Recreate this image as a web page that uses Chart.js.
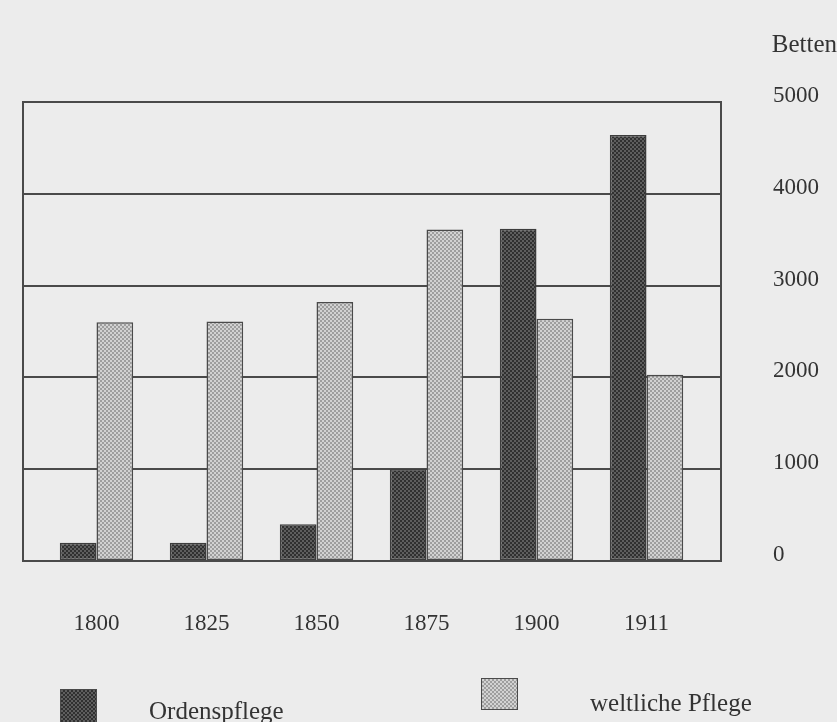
<!DOCTYPE html>
<html>
<head>
<meta charset="utf-8">
<script src="https://cdn.jsdelivr.net/npm/chart.js@4/dist/chart.umd.min.js"></script>
<style>
  body { margin: 0; background: #ececec; }
  #wrap { position: relative; width: 837px; height: 722px; overflow: hidden; }
  .lg-box { position: absolute; width: 37px; height: 32px; box-sizing: border-box; border: 1.5px solid #4a4a4a; }
  .lg-text { position: absolute; font-family: "Liberation Serif", serif; font-size: 25px; color: #333; line-height: 1; }
</style>
</head>
<body>
<div id="wrap">
  <canvas id="bettenChart" width="837" height="722"></canvas>
  <div class="lg-box" id="box-0" style="left:60px; top:689px; height:40px;"></div>
  <div class="lg-text" id="text-0" style="left:149px; top:698px;"></div>
  <div class="lg-box" id="box-1" style="left:481px; top:678px;"></div>
  <div class="lg-text" id="text-1" style="left:590px; top:690px;"></div>
</div>
<script>
var years = ['1800', '1825', '1850', '1875', '1900', '1911'];
var seriesNames = ['Ordenspflege', 'weltliche Pflege'];
var ordenspflege = [200, 200, 400, 1000, 3620, 4640];
var weltlichePflege = [2600, 2610, 2820, 3610, 2640, 2030];
var yTicks = [0, 1000, 2000, 3000, 4000, 5000];

function makePattern(base, dot) {
    var p = document.createElement('canvas');
    p.width = 4;
    p.height = 4;
    var g = p.getContext('2d');
    g.fillStyle = base;
    g.fillRect(0, 0, 4, 4);
    g.fillStyle = dot;
    g.fillRect(0, 0, 2, 2);
    g.fillRect(2, 2, 2, 2);
    return g.createPattern(p, 'repeat');
}

function toPoints(values) {
    return values.map(function(v, i) { return { x: i, y: v }; });
}

var darkFill = makePattern('#5e5e5e', '#303030');
var lightFill = makePattern('#d2d2d2', '#9e9e9e');

// legend lives in html, boxes get the same checker look
document.getElementById('text-0').textContent = seriesNames[0];
document.getElementById('text-1').textContent = seriesNames[1];
document.getElementById('box-0').style.background = 'repeating-conic-gradient(#303030 0 25%, #5e5e5e 0 50%) 0 0/4px 4px';
document.getElementById('box-1').style.background = 'repeating-conic-gradient(#9e9e9e 0 25%, #d2d2d2 0 50%) 0 0/4px 4px';

var framePlugin = {
    id: 'frame',
    beforeDatasetsDraw: function(chart) {
        var a = chart.chartArea;
        var ctx = chart.ctx;
        ctx.save();
        ctx.strokeStyle = '#4a4a4a';
        ctx.lineWidth = 2;
        ctx.strokeRect(a.left, a.top, a.right - a.left, a.bottom - a.top);
        ctx.restore();
    }
};

var ctx = document.getElementById('bettenChart').getContext('2d');
var myChart = new Chart(ctx, {
    type: 'bar',
    data: {
        datasets: [
            {
                label: seriesNames[0],
                data: toPoints(ordenspflege),
                backgroundColor: darkFill,
                borderColor: '#3c3c3c',
                borderWidth: 1.5,
                borderSkipped: false
            },
            {
                label: seriesNames[1],
                data: toPoints(weltlichePflege),
                backgroundColor: lightFill,
                borderColor: '#4a4a4a',
                borderWidth: 1.5,
                borderSkipped: false
            }
        ]
    },
    options: {
        responsive: false,
        animation: false,
        categoryPercentage: 0.667,
        barPercentage: 1.0,
        layout: { padding: { left: 23, right: 0, top: 0, bottom: 0 } },
        plugins: {
            legend: { display: false },
            tooltip: { enabled: false },
            title: {
                display: true,
                text: 'Betten',
                align: 'end',
                color: '#333',
                font: { family: 'Liberation Serif', size: 25, weight: 'normal' },
                padding: { top: 30, bottom: 42 }
            }
        },
        scales: {
            x: {
                type: 'linear',
                offset: false,
                min: -0.668,
                max: 5.677,
                grid: { display: false },
                border: { display: false },
                afterBuildTicks: function(scale) {
                    scale.ticks = years.map(function(y, i) { return { value: i }; });
                },
                afterFit: function(scale) { scale.height = 161; },
                ticks: {
                    padding: 41,
                    color: '#333',
                    font: { family: 'Liberation Serif', size: 23 },
                    callback: function(value) { return years[value]; }
                }
            },
            y: {
                position: 'right',
                min: 0,
                max: 5000,
                grid: { color: '#4a4a4a', lineWidth: 2, drawTicks: false },
                border: { display: false },
                afterBuildTicks: function(scale) {
                    scale.ticks = yTicks.map(function(v) { return { value: v }; });
                },
                afterFit: function(scale) { scale.width = 116; },
                ticks: {
                    padding: 52,
                    labelOffset: -6,
                    color: '#333',
                    font: { family: 'Liberation Serif', size: 23 },
                    callback: function(value) { return String(value); }
                }
            }
        }
    },
    plugins: [framePlugin]
});
</script>
</body>
</html>
